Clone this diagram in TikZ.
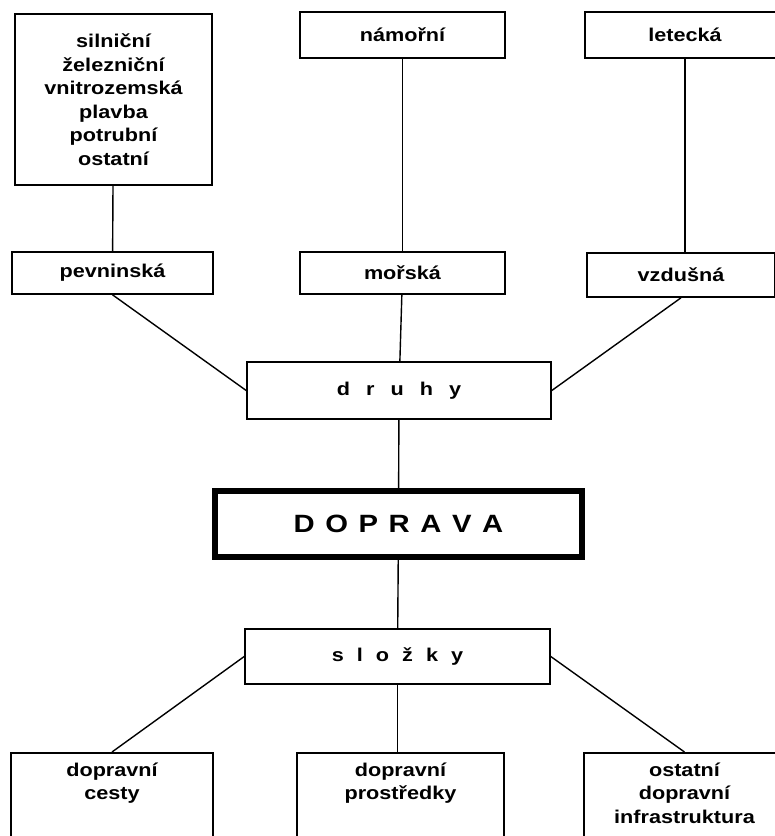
\documentclass[tikz,border=0pt]{standalone}
\usepackage{fontspec}
\setmainfont{Liberation Sans}[FakeStretch=1.17]
\newfontfamily\titlefont{Liberation Sans}[FakeStretch=1.17, WordSpace=1.3]
\newcommand{\lgap}[1]{\hspace{#1pt}}
\usetikzlibrary{positioning}

\begin{document}
\begin{tikzpicture}[
    x=1pt, y=-1pt,
    box/.style={draw, line width=1.6pt, inner sep=0pt, align=center,
      font=\fontsize{18.5}{23.5}\selectfont\bfseries},
    bottombox/.style={box, anchor=north, inner ysep=10pt, text depth=70pt},
    conn/.style={line width=1.4pt},
  ]
    \useasboundingbox (0,0) rectangle (775,836);
    \begin{scope}
    \clip (0,0) rectangle (775,836);

    % Top row
    \node[box, minimum width=197pt, minimum height=171pt] (land) at (113.5,99.5)
      {silniční\\železniční\\vnitrozemská\\plavba\\potrubní\\ostatní};
    \node[box, minimum width=205pt, minimum height=46pt] (sea) at (402.5,35) {námořní};
    \node[box, minimum width=200pt, minimum height=46pt] (air) at (685,35) {letecká};

    % Second row
    \node[box, minimum width=201pt, minimum height=42pt] (pevn) at (112.5,273) {pevninská};
    \node[box, minimum width=205pt, minimum height=42pt] (mor) at (402.5,273) {mořská};
    \node[box, minimum width=188pt, minimum height=44pt] (vzd) at (681,275) {vzdušná};

    % Centre column
    \node[box, minimum width=304pt, minimum height=57pt] (druhy) at (399,390.5)
      {d\lgap{16}r\lgap{16}u\lgap{16}h\lgap{16}y};
    \node[draw, line width=6pt, minimum width=367pt, minimum height=66pt,
      font=\fontsize{25}{29}\selectfont\titlefont\bfseries] (doprava) at (398.5,524) {D O P R A V A};
    \node[box, minimum width=305pt, minimum height=55pt] (slozky) at (397.5,656.5)
      {s\lgap{13}l\lgap{13}o\lgap{13}ž\lgap{13}k\lgap{13}y};

    % Bottom row (cut by the page edge)
    \node[bottombox, minimum width=202pt] (cesty) at (112,752) {dopravní\\cesty};
    \node[bottombox, minimum width=207pt] (prostr) at (400.5,752) {dopravní\\prostředky};
    \node[bottombox, minimum width=201pt] (infra) at (684.5,752) {ostatní\\dopravní\\infrastruktura};

    % Connectors
    \draw[conn] (land) -- (pevn);
    \draw[conn] (sea) -- (mor);
    \draw[conn] (air.south) -- (air.south |- vzd.north);
    \draw[conn] (pevn.south) -- (druhy.west);
    \draw[conn] (mor) -- (druhy);
    \draw[conn] (vzd.south) -- (druhy.east);
    \draw[conn] (druhy) -- (doprava);
    \draw[conn] (doprava) -- (slozky);
    \draw[conn] (slozky.west) -- (cesty.north);
    \draw[conn] (slozky.south) -- (slozky.south |- prostr.north);
    \draw[conn] (slozky.east) -- (infra.north);
    \end{scope}
  \end{tikzpicture}
\end{document}
